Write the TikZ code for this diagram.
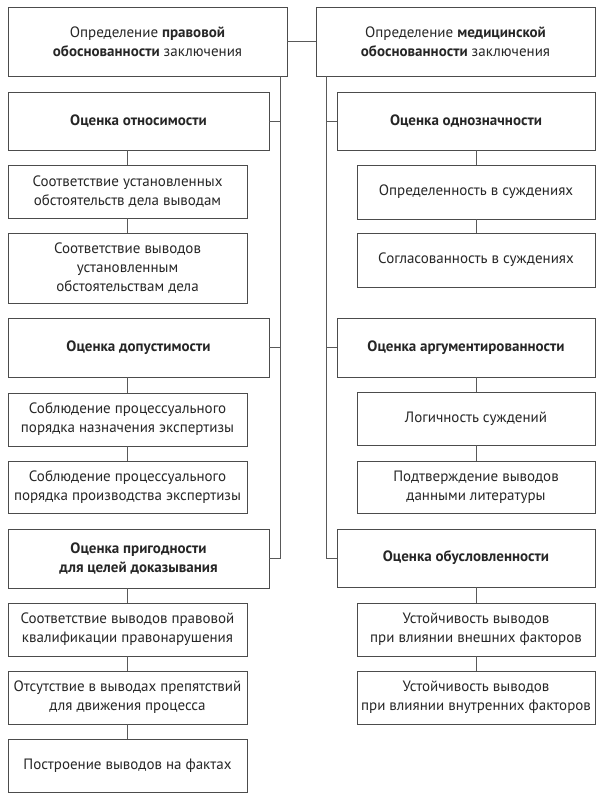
\documentclass[tikz,border=0pt]{standalone}
\usepackage{fontspec}
\setmainfont{PT Sans}
\begin{document}
\begin{tikzpicture}[x=1pt,y=-1pt,
  box/.style={draw=black!70, line width=0.9pt, rectangle, inner sep=1pt, align=center,
    font=\fontsize{15}{19}\selectfont, text=black!85},
  hbox/.style={box, font=\fontsize{15}{19}\selectfont\bfseries},
  conn/.style={draw=black!65, line width=0.9pt}]
\useasboundingbox (0,0) rectangle (600,800);
% top boxes
\node[box, minimum width=279pt, minimum height=69pt] (L0) at (147.5,41.5) {Определение \textbf{правовой}\\\textbf{обоснованности} заключения};
\node[box, minimum width=279pt, minimum height=69pt] (R0) at (455.5,41.5) {Определение \textbf{медицинской}\\\textbf{обоснованности} заключения};
% left main
\node[hbox, minimum width=261pt, minimum height=58pt] (otn) at (138.5,121) {Оценка относимости};
\node[hbox, minimum width=261pt, minimum height=59pt] (dop) at (138.5,347.5) {Оценка допустимости};
\node[hbox, minimum width=261pt, minimum height=59pt] (prig) at (138.5,558.5) {Оценка пригодности\\для целей доказывания};
% left subs
\node[box, minimum width=239pt, minimum height=53pt] (s1) at (127.5,191.5) {Соответствие установленных\\обстоятельств дела выводам};
\node[box, minimum width=239pt, minimum height=70pt] (s2) at (127.5,268) {Соответствие выводов\\установленным\\обстоятельствам дела};
\node[box, minimum width=239pt, minimum height=53pt] (s3) at (127.5,419.5) {Соблюдение процессуального\\порядка назначения экспертизы};
\node[box, minimum width=239pt, minimum height=52pt] (s4) at (127.5,487) {Соблюдение процессуального\\порядка производства экспертизы};
\node[box, minimum width=239pt, minimum height=53pt] (s5) at (127.5,629.5) {Соответствие выводов правовой\\квалификации правонарушения};
\node[box, minimum width=239pt, minimum height=53pt] (s6) at (127.5,697.5) {Отсутствие в выводах препятствий\\для движения процесса};
\node[box, minimum width=239pt, minimum height=53pt] (s7) at (127.5,765.5) {Построение выводов на фактах};
% right main
\node[hbox, minimum width=258pt, minimum height=58pt] (odn) at (466,121) {Оценка однозначности};
\node[hbox, minimum width=258pt, minimum height=59pt] (arg) at (466,347.5) {Оценка аргументированности};
\node[hbox, minimum width=258pt, minimum height=58pt] (obu) at (466,558) {Оценка обусловленности};
% right subs
\node[box, minimum width=238pt, minimum height=54pt] (r1) at (476,192) {Определенность в суждениях};
\node[box, minimum width=238pt, minimum height=54pt] (r2) at (476,260) {Согласованность в суждениях};
\node[box, minimum width=238pt, minimum height=53pt] (r3) at (476,418.5) {Логичность суждений};
\node[box, minimum width=238pt, minimum height=52pt] (r4) at (476,487) {Подтверждение выводов\\данными литературы};
\node[box, minimum width=238pt, minimum height=53pt] (r5) at (476,629.5) {Устойчивость выводов\\при влиянии внешних факторов};
\node[box, minimum width=238pt, minimum height=53pt] (r6) at (476,697.5) {Устойчивость выводов\\при влиянии внутренних факторов};
% trunks
\coordinate (tL) at (280,0);
\coordinate (tR) at (326,0);
\draw[conn] (L0.east) -- (R0.west);
\draw[conn] (tL |- L0.south) -- (tL |- prig.east) -- (prig.east);
\draw[conn] (tL |- otn.east) -- (otn.east);
\draw[conn] (tL |- dop.east) -- (dop.east);
\draw[conn] (tR |- R0.south) -- (tR |- obu.west) -- (obu.west);
\draw[conn] (tR |- odn.west) -- (odn.west);
\draw[conn] (tR |- arg.west) -- (arg.west);
% left chains
\draw[conn] (s1.north |- otn.south) -- (s1.north);
\draw[conn] (s1.south) -- (s2.north);
\draw[conn] (s3.north |- dop.south) -- (s3.north);
\draw[conn] (s3.south) -- (s4.north);
\draw[conn] (s5.north |- prig.south) -- (s5.north);
\draw[conn] (s5.south) -- (s6.north);
\draw[conn] (s6.south) -- (s7.north);
% right chains
\draw[conn] (r1.north |- odn.south) -- (r1.north);
\draw[conn] (r1.south) -- (r2.north);
\draw[conn] (r3.north |- arg.south) -- (r3.north);
\draw[conn] (r3.south) -- (r4.north);
\draw[conn] (r5.north |- obu.south) -- (r5.north);
\draw[conn] (r5.south) -- (r6.north);
\end{tikzpicture}
\end{document}
